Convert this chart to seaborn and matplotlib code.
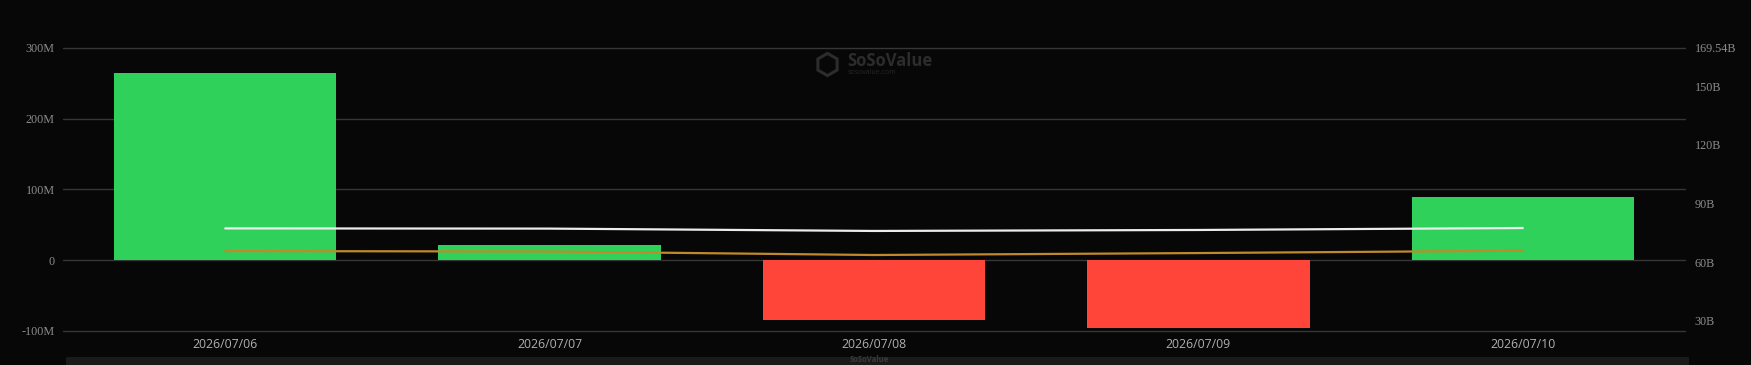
import numpy as np
import pandas as pd
import matplotlib
matplotlib.use("Agg")
import matplotlib.pyplot as plt
import matplotlib.patches as mpatches
from matplotlib.lines import Line2D
import seaborn as sns

# ---- data ----
dates = ["2026/07/06", "2026/07/07", "2026/07/08", "2026/07/09", "2026/07/10"]
net_inflow_m = [265.0, 21.0, -85.0, -96.0, 89.0]          # left axis, millions USD
total_assets_b = [77.3, 77.2, 76.0, 76.5, 77.5]            # right axis, billions (white)
cum_inflow_b = [65.7, 65.5, 63.7, 64.7, 65.9]              # right axis, billions (gold)
left_ticks = [-100, 0, 100, 200, 300]
left_labels = ["-100M", "0", "100M", "200M", "300M"]
right_ticks = [30, 60, 90, 120, 150, 169.54]
right_labels = ["30B", "60B", "90B", "120B", "150B", "169.54B"]

BG = "#070707"
GREEN = "#2fd15a"
RED = "#ff453a"

sns.set_theme(style="dark")
plt.rcParams["font.family"] = ["Open Sans", "DejaVu Sans"]

W, H = 1751, 365
fig = plt.figure(figsize=(W / 100, H / 100), dpi=100, facecolor=BG)
x0, x1 = 63 / W, 1685 / W
y_top, y_bot = 48, 330.7
ax = fig.add_axes([x0, 1 - y_bot / H, x1 - x0, (y_bot - y_top) / H])
ax.set_facecolor(BG)

df = pd.DataFrame({"date": dates, "flow": net_inflow_m})
df["sign"] = np.where(df["flow"] >= 0, "pos", "neg")
sns.barplot(data=df, x="date", y="flow", hue="sign", palette={"pos": GREEN, "neg": RED},
            dodge=False, width=0.685, legend=False, ax=ax, zorder=2, saturation=1,
            edgecolor="none", linewidth=0)
ax.set_xlim(-0.5, len(dates) - 0.5)
ax.set_ylim(-100, 300)
ax.set_yticks(left_ticks)
ax.set_yticklabels(left_labels)
ax.set_xlabel("")
ax.set_ylabel("")
ax.grid(False)
for t in left_ticks:
    ax.axhline(t, color="#363636", lw=1, zorder=1, clip_on=False)
for s in ax.spines.values():
    s.set_visible(False)
ax.tick_params(axis="y", length=0, pad=6, labelsize=8.7, labelcolor="#8c8c8c")
ax.tick_params(axis="x", length=0, pad=5, labelsize=8.8, labelcolor="#b0b0b0")
for lab in ax.get_yticklabels():
    lab.set_fontfamily("Liberation Serif")

ax2 = ax.twinx()
ax2.set_facecolor("none")
pos = np.arange(len(dates))
sns.lineplot(x=pos, y=total_assets_b, color="#ececec", lw=1.6, ax=ax2)
sns.lineplot(x=pos, y=cum_inflow_b, color="#c08a2a", lw=1.6, ax=ax2)
ax2.set_ylim(25.0, 169.54)
ax2.set_yticks(right_ticks)
ax2.set_yticklabels(right_labels)
ax2.grid(False)
for s in ax2.spines.values():
    s.set_visible(False)
ax2.tick_params(axis="y", length=0, pad=7, labelsize=8.7, labelcolor="#8c8c8c")
for lab in ax2.get_yticklabels():
    lab.set_fontfamily("Liberation Serif")
ax2.set_xlim(-0.5, len(dates) - 0.5)

# watermark at top
fig.text(847 / W, 1 - 61 / H, "SoSoValue", color="#2c2c2c", fontsize=12,
         fontweight="bold", ha="left", va="center")
fig.text(848 / W, 1 - 73 / H, "sosovalue.com", color="#262626", fontsize=5,
         ha="left", va="center")
fig.add_artist(Line2D([827 / W], [1 - 64 / H], transform=fig.transFigure, marker="h",
                      markersize=16, markerfacecolor="none", markeredgecolor="#2c2c2c",
                      markeredgewidth=2.2, linestyle="none"))

# bottom slider band (cropped)
fig.add_artist(mpatches.Rectangle((66 / W, 0), (1689 - 66) / W, 8.5 / H,
                                  transform=fig.transFigure, facecolor="#1a1a1a",
                                  edgecolor="none"))
fig.text(850 / W, 1 / H, "SoSoValue", color="#3a3a3a", fontsize=5.5,
         fontweight="bold", ha="left", va="bottom")

fig.savefig("out.png", dpi=100, facecolor=BG)
